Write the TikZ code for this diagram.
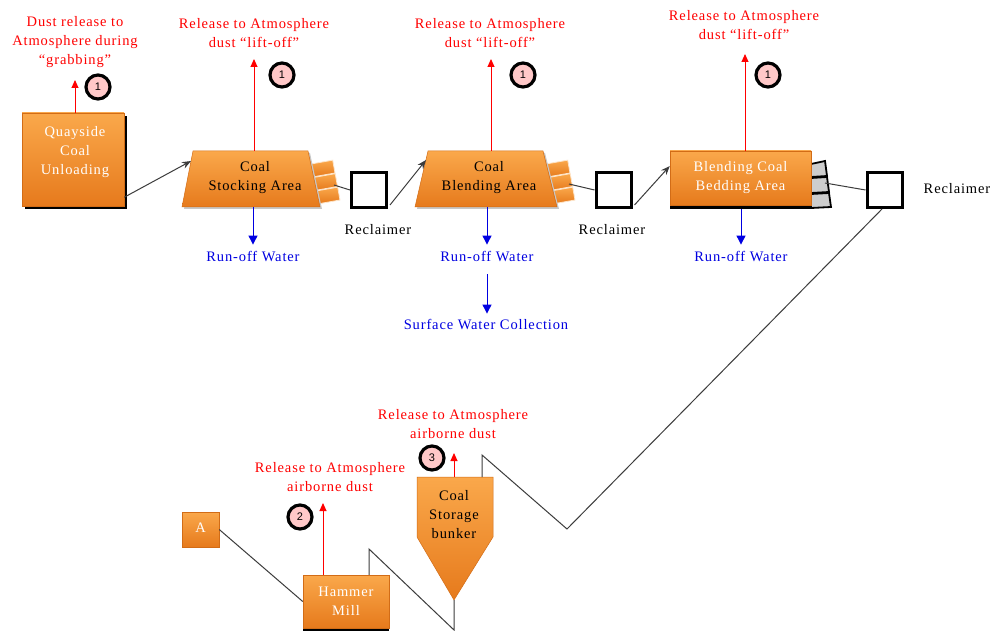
\documentclass[tikz,border=0pt]{standalone}
\usepackage{fontspec}
\setmainfont{Liberation Serif}[LetterSpace=6]
\newfontfamily\numfont{Liberation Sans}
\usetikzlibrary{arrows.meta,shadows,calc}

\definecolor{boxtop}{RGB}{250,168,75}
\definecolor{boxbot}{RGB}{230,122,28}
\definecolor{boxedge}{RGB}{210,108,22}
\definecolor{relred}{RGB}{255,0,0}
\definecolor{waterblue}{RGB}{0,0,225}
\definecolor{tagpink}{RGB}{255,200,200}
\definecolor{wire}{RGB}{60,60,60}
\definecolor{stripe}{RGB}{205,205,205}

\begin{document}
\begin{tikzpicture}[x=1pt,y=-1pt,
  every node/.style={font=\fontsize{14.5}{19}\selectfont, align=center, inner sep=0pt},
  orangefill/.style={top color=boxtop, bottom color=boxbot, draw=boxedge, line width=0.5pt},
  unit/.style={orangefill, rectangle},
  hardshadow/.style={general shadow={fill=black, shadow xshift=3pt, shadow yshift=-3pt}},
  baseshadow/.style={general shadow={fill=black, shadow xshift=0pt, shadow yshift=-4pt}},
  softshadow/.style={fill=black!22},
  whitetxt/.style={text=white},
  reclaim/.style={rectangle, draw=black, fill=white, line width=3pt, minimum size=35pt},
  tag/.style={circle, draw=black, fill=tagpink, line width=3.2pt, minimum size=24pt,
              font=\numfont\fontsize{11}{11}\selectfont},
  redtxt/.style={text=relred},
  bluetxt/.style={text=waterblue},
  release/.style={draw=relred, line width=1pt, -{Triangle[length=8pt,width=7pt]}},
  runoff/.style={draw=waterblue, line width=1pt, -{Triangle[length=9pt,width=9pt]}},
  conn/.style={draw=wire, line width=1pt},
  feed/.style={conn, -{Stealth[length=9pt,width=7pt]}},
  stackbar/.style={orangefill, draw=white!70!boxtop, line width=0.8pt},
  graybar/.style={fill=stripe, draw=black, line width=1.8pt},
]
\useasboundingbox (0,0) rectangle (993,631);
\fill[white] (0,0) rectangle (993,631);

% ---------- quayside unloading ----------
\node[unit, hardshadow, minimum width=102pt, minimum height=93pt] (quay) at (73,159.5) {};
\node[whitetxt] (quay-t) at (75,152) {Quayside\\Coal\\Unloading};
\coordinate (quay-up) at (75,80);
\draw[release] (quay-up |- quay.north) -- (quay-up);
\node[tag] (tag-q) at (98,87) {1};
\node[redtxt] (quay-rel) at (75,42.5) {Dust release to\\Atmosphere during\\“grabbing”};

% ---------- coal stocking area ----------
\foreach \i in {0,1,2}
  \path[stackbar, rotate around={10:(323+2.5*\i,168.5+13.5*\i)}]
    (312+2.5*\i,162+13.5*\i) rectangle ++(22,13);
\fill[softshadow] (184,209) -- (195,153) -- (310,153) -- (322,209) -- cycle;
\path[orangefill] (182,207) -- (193,151) -- (308,151) -- (320,207) -- cycle;
\node (stock) at (255,178) {Coal\\Stocking Area};
\coordinate (stock-in) at (191,161);
\coordinate (stock-out) at (334,185);
\coordinate (stock-up) at (254,59);
\coordinate (stock-dn) at (253,207);
\draw[release] (stock-up |- 0,151) -- (stock-up);
\node[tag] (tag-s) at (282,75) {1};
\node[redtxt] (stock-rel) at (254,33) {Release to Atmosphere\\dust “lift-off”};
\node[bluetxt] (ro1) at (253,257) {Run-off Water};
\draw[runoff] (stock-dn) -- ([yshift=7pt]ro1.north);

\draw[feed] ([yshift=9pt]quay.south east) -- (stock-in);

% ---------- reclaimer 1 ----------
\node[reclaim] (rec1) at (369,190) {};
\node (rec1-t) at (378,230) {Reclaimer};
\draw[conn] (stock-out) -- (rec1.west);

% ---------- coal blending area ----------
\foreach \i in {0,1,2}
  \path[stackbar, rotate around={10:(558+2.5*\i,168.5+13.5*\i)}]
    (547+2.5*\i,162+13.5*\i) rectangle ++(22,13);
\fill[softshadow] (417,209) -- (430,153) -- (545,153) -- (559,209) -- cycle;
\path[orangefill] (415,207) -- (428,151) -- (543,151) -- (557,207) -- cycle;
\node (blend) at (489,178) {Coal\\Blending Area};
\coordinate (blend-in) at (426,160);
\coordinate (blend-out) at (569,184);
\coordinate (blend-up) at (491,59);
\coordinate (blend-dn) at (487,207);
\draw[release] (blend-up |- 0,151) -- (blend-up);
\node[tag] (tag-b) at (523,75) {1};
\node[redtxt] (blend-rel) at (490,33) {Release to Atmosphere\\dust “lift-off”};
\node[bluetxt] (ro2) at (487,257) {Run-off Water};
\draw[runoff] (blend-dn) -- ([yshift=7pt]ro2.north);
\node[bluetxt] (surf) at (486,325) {Surface Water Collection};
\draw[runoff, shorten <=12pt, shorten >=6pt] (ro2.south -| blend-dn) -- (surf.north -| blend-dn);

\draw[feed] ([xshift=2pt,yshift=-15pt]rec1.east) -- (blend-in);

% ---------- reclaimer 2 ----------
\node[reclaim] (rec2) at (613.5,190) {};
\node (rec2-t) at (612,230) {Reclaimer};
\draw[conn] (blend-out) -- (rec2.west);

% ---------- blending coal bedding area ----------
\path[graybar] (811,164) -- (825,161) -- (827,176) -- (811,177) -- cycle;
\path[graybar] (811,178) -- (827,177) -- (829,192) -- (811,193) -- cycle;
\path[graybar] (811,194) -- (829,193) -- (831,207) -- (811,208) -- cycle;
\node[unit, baseshadow, minimum width=141pt, minimum height=54pt] (bed) at (740.5,178) {};
\node[whitetxt] (bed-t) at (740.5,178) {Blending Coal\\Bedding Area};
\coordinate (bed-out) at (825,183);
\coordinate (bed-up) at (745,54);
\coordinate (bed-dn) at (741,209);
\draw[release] (bed-up |- bed.north) -- (bed-up);
\node[tag] (tag-d) at (768,75) {1};
\node[redtxt] (bed-rel) at (744,25) {Release to Atmosphere\\dust “lift-off”};
\node[bluetxt] (ro3) at (741,257) {Run-off Water};
\draw[runoff] (bed-dn) -- ([yshift=7pt]ro3.north);

\draw[feed] ([xshift=2pt,yshift=-15pt]rec2.east) -- ([yshift=12pt]bed.west);

% ---------- reclaimer 3 ----------
\node[reclaim] (rec3) at (884.5,190) {};
\node (rec3-t) at (957,189) {Reclaimer};
\draw[conn] (bed-out) -- (rec3.west);

% ---------- coal storage bunker ----------
\path[orangefill] (417,477) -- (493,477) -- (493,537) -- (454,600) -- (417,537) -- cycle;
\node (bunk) at (454,515) {Coal\\Storage\\bunker};
\coordinate (bunk-top) at (482,477);
\coordinate (bunk-tip) at (454,600);
\coordinate (bunk-up) at (454,453);
\draw[release] (bunk-up |- bunk-top) -- (bunk-up);
\node[tag] (tag-3) at (432,458) {3};
\node[redtxt] (bunk-rel) at (453,424.5) {Release to Atmosphere\\airborne dust};

\draw[conn] (bunk-top) -- (482,455) -- (567,529) -- ([xshift=-2.5pt]rec3.south);

% ---------- hammer mill ----------
\node[unit, baseshadow, minimum width=86pt, minimum height=53pt] (ham) at (346,601.5) {};
\node[whitetxt] (ham-t) at (346,601) {Hammer\\Mill};
\coordinate (ham-up) at (323,503);
\draw[release] (ham-up |- ham.north) -- (ham-up);
\node[tag] (tag-2) at (300,517) {2};
\node[redtxt] (ham-rel) at (330,477) {Release to Atmosphere\\airborne dust};

\draw[conn] ([xshift=23pt]ham.north) -- (369,549) -- (454,630) -- (bunk-tip);

% ---------- off-page connector A ----------
\node[unit, minimum width=37pt, minimum height=35pt] (a) at (200.5,529.5) {};
\node[whitetxt] (a-t) at (200.5,528) {A};
\draw[conn] (a.east) -- (ham.west);

\end{tikzpicture}
\end{document}
